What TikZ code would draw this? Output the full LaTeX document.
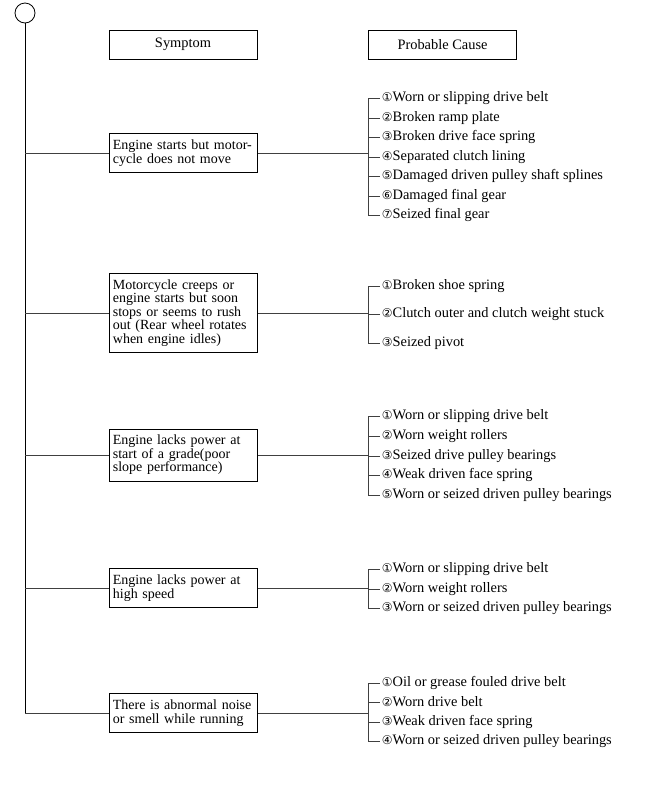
\documentclass[tikz,border=0pt]{standalone}
\usepackage{fontspec}
\setmainfont{Liberation Serif}
\newfontfamily\circfont{DejaVu Sans}
\newcommand{\cn}[1]{{\circfont\fontsize{12}{12}\selectfont #1}}

\begin{document}
\begin{tikzpicture}[x=1pt,y=-1pt,line width=0.8pt,
  every node/.style={font=\fontsize{14.4}{13.6}\selectfont},
  head/.style={draw,minimum width=148pt,minimum height=29pt,inner sep=0pt},
  symp/.style={draw,text width=141pt,align=left,inner xsep=3.5pt,inner ysep=6pt,anchor=west,
    font=\fontsize{14}{13.6}\selectfont},
  cause/.style={anchor=west,inner xsep=1.5pt,inner ysep=0pt},
  link/.style={draw=black!75}]
  \useasboundingbox (0,0) rectangle (648,801);
  \node[circle,draw,minimum size=20pt,inner sep=0pt] (top) at (25,13) {};
  \node[head] (symptom) at (183,44.5) {Symptom};
  \node[head] (cause) at (442.5,44.5) {Probable Cause};
  % symptoms
  \node[symp] (s1) at (109,153) {Engine starts but motor-\\cycle does not move};
  \node[symp] (s2) at (109,313) {Motorcycle creeps or\\engine starts but soon\\stops or seems to rush\\out (Rear wheel rotates\\when engine idles)};
  \node[symp] (s3) at (109,455) {Engine lacks power at\\start of a grade(poor\\slope performance)};
  \node[symp] (s4) at (109,588) {Engine lacks power at\\high speed};
  \node[symp] (s5) at (109,713) {There is abnormal noise\\or smell while running};
  \coordinate (t1) at (25,153);
  \coordinate (t2) at (25,313);
  \coordinate (t3) at (25,455);
  \coordinate (t4) at (25,588);
  \coordinate (t5) at (25,713);
  \coordinate (b1) at (368,153);
  \coordinate (b2) at (368,313);
  \coordinate (b3) at (368,455);
  \coordinate (b4) at (368,588);
  \coordinate (b5) at (368,713);
  % causes
  \node[cause] (c11) at (380,98) {\cn{①}Worn or slipping drive belt};
  \node[cause] (c12) at (380,118) {\cn{②}Broken ramp plate};
  \node[cause] (c13) at (380,137) {\cn{③}Broken drive face spring};
  \node[cause] (c14) at (380,157) {\cn{④}Separated clutch lining};
  \node[cause] (c15) at (380,176) {\cn{⑤}Damaged driven pulley shaft splines};
  \node[cause] (c16) at (380,196) {\cn{⑥}Damaged final gear};
  \node[cause] (c17) at (380,215) {\cn{⑦}Seized final gear};
  \node[cause] (c21) at (380,286) {\cn{①}Broken shoe spring};
  \node[cause] (c22) at (380,314) {\cn{②}Clutch outer and clutch weight stuck};
  \node[cause] (c23) at (380,343) {\cn{③}Seized pivot};
  \node[cause] (c31) at (380,416) {\cn{①}Worn or slipping drive belt};
  \node[cause] (c32) at (380,436) {\cn{②}Worn weight rollers};
  \node[cause] (c33) at (380,456) {\cn{③}Seized drive pulley bearings};
  \node[cause] (c34) at (380,475) {\cn{④}Weak driven face spring};
  \node[cause] (c35) at (380,495) {\cn{⑤}Worn or seized driven pulley bearings};
  \node[cause] (c41) at (380,569) {\cn{①}Worn or slipping drive belt};
  \node[cause] (c42) at (380,589) {\cn{②}Worn weight rollers};
  \node[cause] (c43) at (380,608) {\cn{③}Worn or seized driven pulley bearings};
  \node[cause] (c51) at (380,683) {\cn{①}Oil or grease fouled drive belt};
  \node[cause] (c52) at (380,702) {\cn{②}Worn drive belt};
  \node[cause] (c53) at (380,722) {\cn{③}Weak driven face spring};
  \node[cause] (c54) at (380,741) {\cn{④}Worn or seized driven pulley bearings};
  % trunk and branches
  \draw (top) -- (t5);
  \draw[link] (t1) -- (s1) -- (b1)
              (t2) -- (s2) -- (b2)
              (t3) -- (s3) -- (b3)
              (t4) -- (s4) -- (b4)
              (t5) -- (s5) -- (b5);
  \draw[link] (b1) |- (c11.west) (b1) |- (c12.west) (b1) |- (c13.west)
              (b1) |- (c14.west) (b1) |- (c15.west) (b1) |- (c16.west)
              (b1) |- (c17.west)
              (b2) |- (c21.west) (b2) |- (c22.west) (b2) |- (c23.west)
              (b3) |- (c31.west) (b3) |- (c32.west) (b3) |- (c33.west)
              (b3) |- (c34.west) (b3) |- (c35.west)
              (b4) |- (c41.west) (b4) |- (c42.west) (b4) |- (c43.west)
              (b5) |- (c51.west) (b5) |- (c52.west) (b5) |- (c53.west)
              (b5) |- (c54.west);
\end{tikzpicture}
\end{document}
